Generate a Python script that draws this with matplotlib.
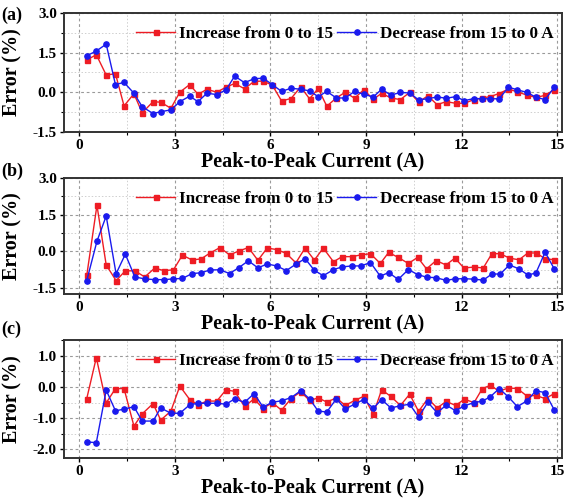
import matplotlib
matplotlib.use('Agg')
import matplotlib.pyplot as plt
from matplotlib.ticker import MultipleLocator, FormatStrFormatter

plt.rcParams['font.family'] = ['Liberation Serif', 'DejaVu Serif']
plt.rcParams['font.weight'] = 'bold'

# Peak-to-peak current (A)
current = [0.24, 0.54, 0.85, 1.14, 1.41, 1.72, 1.98, 2.32, 2.56, 2.88, 3.16, 3.47, 3.73,
           4.01, 4.32, 4.61, 4.88, 5.19, 5.49, 5.77, 6.06, 6.35, 6.65, 6.95, 7.23, 7.50,
           7.77, 8.07, 8.35, 8.64, 8.93, 9.23, 9.49, 9.78, 10.08, 10.37, 10.65, 10.94,
           11.23, 11.52, 11.81, 12.09, 12.39, 12.65, 12.89, 13.18, 13.47, 13.75, 14.05,
           14.33, 14.62, 14.91]
current_b = [0.24, 0.56, 0.85, 1.16, 1.45, 1.75, 2.06, 2.37, 2.66, 2.96, 3.24, 3.55, 3.83,
             4.11, 4.42, 4.72, 5.01, 5.31, 5.61, 5.90, 6.20, 6.50, 6.80, 7.09, 7.38, 7.66,
             7.98, 8.25, 8.55, 8.84, 9.14, 9.45, 9.71, 10.01, 10.33, 10.62, 10.90, 11.20,
             11.51, 11.79, 12.07, 12.38, 12.68, 12.95, 13.21, 13.50, 13.80, 14.08, 14.33,
             14.62, 14.91]

# (a)
inc_a = [1.22, 1.42, 0.65, 0.70, -0.52, -0.06, -0.78, -0.36, -0.38, -0.61, 0.0, 0.29, -0.08,
         0.11, 0.0, 0.19, 0.33, 0.13, 0.41, 0.42, 0.27, -0.33, -0.24, 0.20, -0.25, 0.14,
         -0.53, -0.22, 0.0, -0.23, 0.09, -0.27, -0.04, -0.22, -0.28, -0.01, -0.37, -0.14,
         -0.47, -0.36, -0.42, -0.42, -0.28, -0.22, -0.17, -0.05, 0.12, 0.01, -0.11, -0.20,
         -0.12, 0.10]
dec_a = [1.38, 1.56, 1.82, 0.29, 0.37, -0.04, -0.55, -0.81, -0.74, -0.67, -0.36, -0.15, -0.36,
         -0.04, -0.09, 0.09, 0.61, 0.36, 0.51, 0.53, 0.29, 0.03, 0.15, 0.11, 0.05, -0.17,
         0.03, -0.22, -0.22, 0.03, -0.08, -0.18, 0.11, -0.11, -0.01, -0.03, -0.29, -0.25,
         -0.18, -0.23, -0.17, -0.32, -0.24, -0.25, -0.25, -0.25, 0.19, 0.09, -0.01, -0.19,
         -0.28, 0.19]

# (b)
inc_b = [-0.99, 1.88, -0.56, -1.20, -0.80, -0.80, -1.05, -0.69, -0.79, -0.76, -0.16, -0.36,
         -0.31, -0.07, 0.15, -0.15, 0.01, 0.15, -0.37, 0.13, 0.07, -0.09, -0.47, 0.13, -0.36,
         0.13, -0.43, -0.22, -0.22, -0.15, -0.10, -0.50, -0.05, -0.25, -0.50, -0.25, -0.72,
         -0.38, -0.56, -0.28, -0.68, -0.65, -0.68, -0.10, -0.10, -0.28, -0.35, -0.07, -0.07,
         -0.30, -0.35]
dec_b = [-1.20, 0.41, 1.44, -0.92, -0.12, -1.05, -1.13, -1.16, -1.16, -1.13, -1.11, -0.91,
         -0.88, -0.76, -0.76, -0.91, -0.67, -0.39, -0.68, -0.52, -0.60, -0.79, -0.53, -0.30,
         -0.78, -1.00, -0.75, -0.64, -0.60, -0.60, -0.46, -1.02, -0.87, -1.15, -0.75, -0.95,
         -1.06, -1.08, -1.19, -1.13, -1.12, -1.14, -1.18, -0.93, -0.93, -0.56, -0.72, -0.97,
         -0.89, -0.04, -0.73]

# (c)
inc_c = [-0.37, 0.94, -0.51, -0.05, -0.05, -1.25, -0.86, -0.53, -1.06, -0.77, 0.03, -0.40,
         -0.57, -0.45, -0.45, -0.09, -0.14, -0.62, -0.38, -0.69, -0.50, -0.74, -0.37, -0.15,
         -0.43, -0.35, -0.48, -0.35, -0.59, -0.43, -0.30, -0.87, -0.09, -0.30, -0.59, -0.23,
         -0.78, -0.37, -0.67, -0.46, -0.59, -0.39, -0.50, -0.05, 0.05, -0.13, -0.03, -0.05,
         -0.29, -0.27, -0.37, -0.21]
dec_c = [-1.76, -1.78, -0.10, -0.76, -0.71, -0.63, -1.09, -1.09, -0.67, -0.84, -0.84, -0.57,
         -0.52, -0.52, -0.52, -0.55, -0.38, -0.49, -0.21, -0.64, -0.49, -0.44, -0.34, -0.12,
         -0.38, -0.77, -0.80, -0.38, -0.70, -0.55, -0.40, -0.68, -0.40, -0.67, -0.60, -0.55,
         -0.96, -0.49, -0.82, -0.58, -0.76, -0.60, -0.50, -0.45, -0.32, -0.05, -0.32, -0.63,
         -0.44, -0.12, -0.18, -0.74]

panel_names = ['(a)', '(b)', '(c)']
RED = '#ee1c24'
BLUE = '#1a1aee'

fig = plt.figure(figsize=(5.8, 5.01), dpi=100)

# [left, bottom, width, height] in figure fractions
boxes = [[0.110, 0.737, 0.859, 0.237],
         [0.110, 0.414, 0.859, 0.231],
         [0.110, 0.086, 0.859, 0.235]]
panels = [(current, inc_a, dec_a, (-1.5, 3.0), 0.75),
          (current_b, inc_b, dec_b, (-1.73, 3.0), 0.75),
          (current, inc_c, dec_c, (-2.27, 1.5), 0.5)]
label_y = [0.970, 0.657, 0.343]

for i, (box, (xs, inc, dec, ylim, minor)) in enumerate(zip(boxes, panels)):
    ax = fig.add_axes(box)
    ax.plot(xs, inc, color=RED, lw=1.0, marker='s', ms=3.6, label='Increase from 0 to 15', zorder=3)
    ax.plot(xs, dec, color=BLUE, lw=1.0, marker='o', ms=3.8, label='Decrease from 15 to 0 A', zorder=3)

    ax.set_xlim(-0.48, 15.15)
    ax.set_ylim(*ylim)
    ax.xaxis.set_major_locator(MultipleLocator(3))
    ax.xaxis.set_minor_locator(MultipleLocator(1.5))
    if i == 2:
        ax.set_yticks([-2.0, -1.0, 0.0, 1.0])
    else:
        ax.set_yticks([-1.5, 0.0, 1.5, 3.0])
    ax.yaxis.set_minor_locator(MultipleLocator(minor))
    ax.yaxis.set_major_formatter(FormatStrFormatter('%.1f'))

    ax.grid(which='major', color='#9a9a9a', linestyle=(0, (2.5, 2.5)), lw=0.8)
    ax.grid(which='minor', color='#cfcfcf', linestyle=(0, (1.5, 2)), lw=0.7)
    ax.set_axisbelow(True)

    for sp in ax.spines.values():
        sp.set_linewidth(1.4)
        sp.set_color('#333333')
    ax.tick_params(which='major', direction='out', length=3, width=1, labelsize=11, pad=2)
    ax.tick_params(which='minor', direction='out', length=2, width=0.8)
    for lab in ax.get_xticklabels() + ax.get_yticklabels():
        lab.set_fontweight('bold')

    ax.set_xlabel('Peak-to-Peak Current (A)', fontsize=14.5, fontweight='bold', labelpad=0)
    ax.set_ylabel('Error (%)', fontsize=14.5, fontweight='bold')
    ax.yaxis.set_label_coords(-0.082, 0.5)

    ax.legend(loc='upper right', ncol=2, frameon=False, handlelength=2.3,
              handletextpad=0.2, columnspacing=0.25, borderaxespad=0.1,
              bbox_to_anchor=(1.0, 0.96), prop={'weight': 'bold', 'size': 12.3})

    fig.text(0.003, label_y[i], panel_names[i], fontsize=13, fontweight='bold', va='center', ha='left')

fig.savefig('out.png', dpi=100)
